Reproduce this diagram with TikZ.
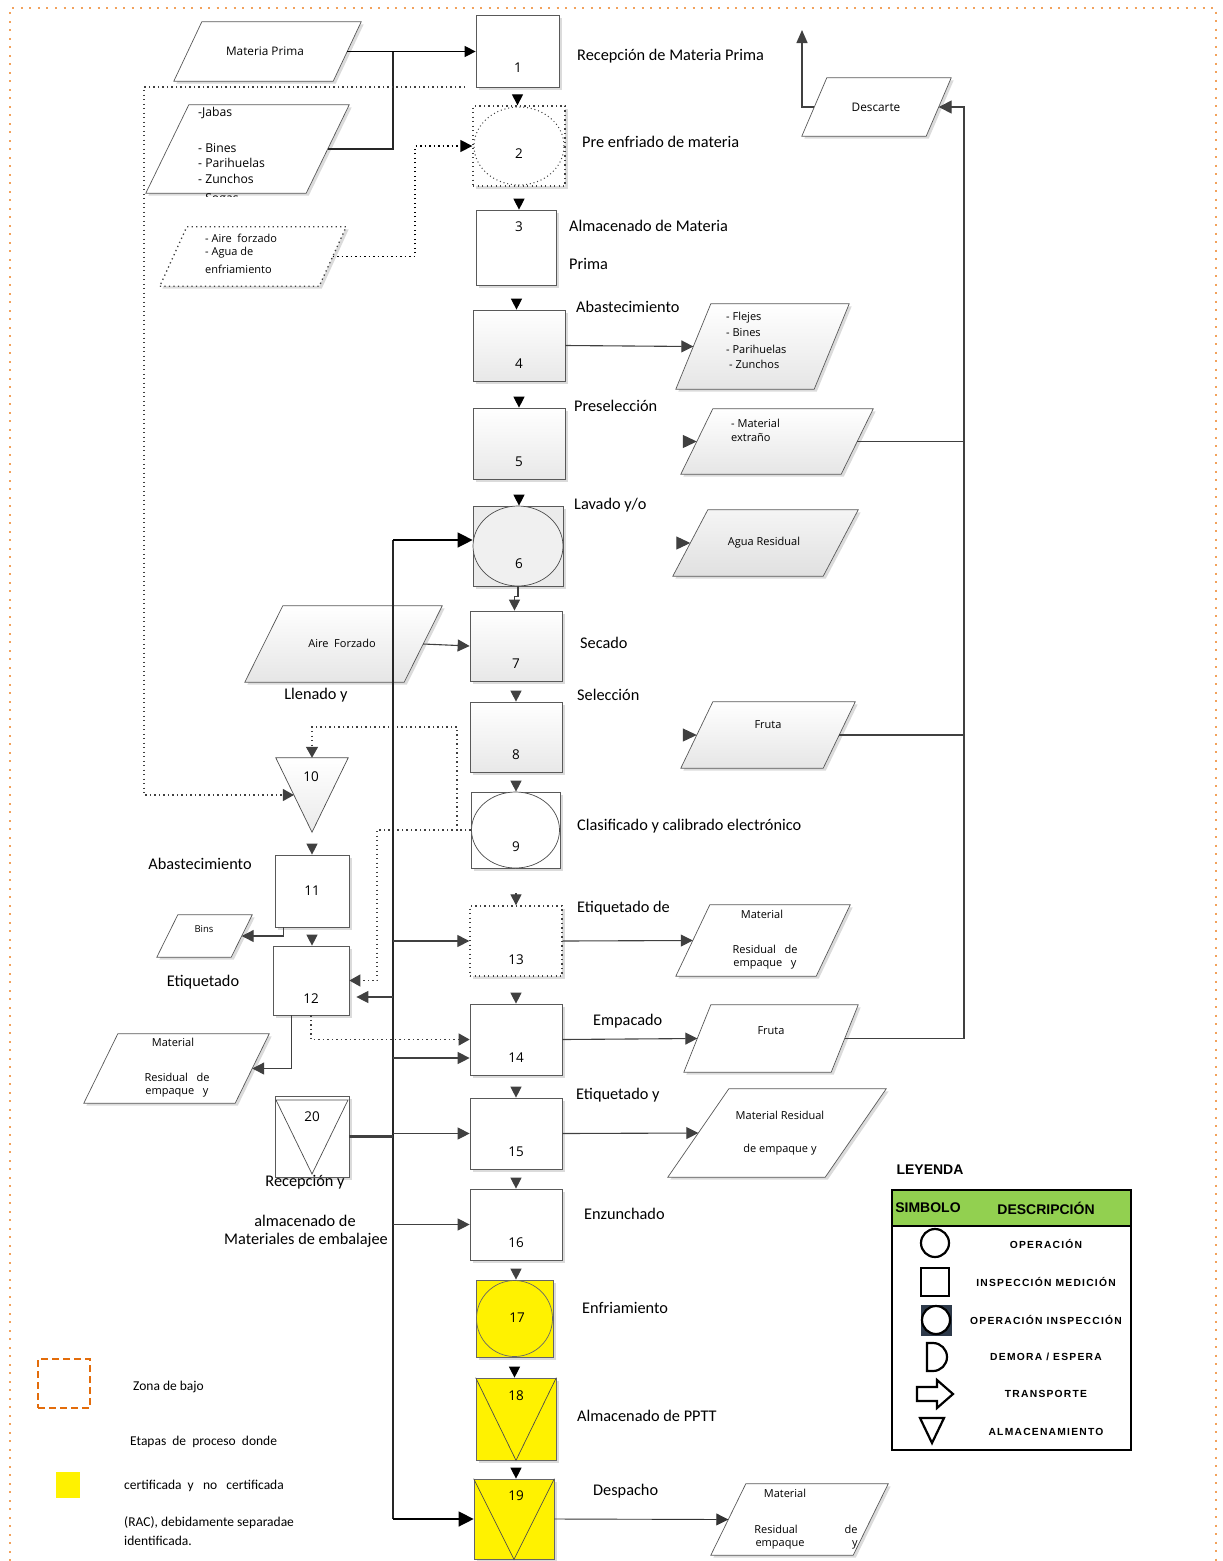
\documentclass[tikz,border=0pt]{standalone}
\usepackage{fontspec}
\setmainfont{Carlito}
\newfontfamily\osans{Open Sans}
\newfontfamily\arb{Liberation Sans}
\newfontfamily\arbs{Liberation Sans}[LetterSpace=12]
\usetikzlibrary{shapes.geometric,arrows.meta,shadows,calc}
\definecolor{lgreen}{HTML}{92D050}
\definecolor{obord}{HTML}{F2A25C}
\definecolor{odash}{HTML}{E36C0A}
\definecolor{dark}{HTML}{404040}
\definecolor{symc}{HTML}{2E3A4A}
\newcommand\lf{\fontsize{16.3}{19}\selectfont}
\newcommand\pf{\osans\fontsize{11.8}{14}\selectfont}
\newcommand\pfs{\osans\fontsize{11}{13}\selectfont}
\newcommand\nf{\osans\fontsize{13.5}{16}\selectfont}
% name, cx, cy, width, height, shift, style
\newcommand\mypara[7]{%
  \node[rectangle,minimum width=#4pt,minimum height=#5pt,inner sep=0pt] (#1) at (#2,#3) {};
  \path[pshape,#7] (#1.south west) -- ($(#1.south east)+(-#6,0)$) -- (#1.north east) -- ($(#1.north west)+(#6,0)$) -- cycle;
  \coordinate (#1l) at ($(#1.west)+(#6/2,0)$);
  \coordinate (#1r) at ($(#1.east)+(-#6/2,0)$);}
\tikzset{
 shd/.style={drop shadow={shadow xshift=2.5pt,shadow yshift=-2.5pt,fill=black!14,opacity=1}},
 pbox/.style={rectangle,draw=black!65,line width=0.7pt,fill=white,inner sep=0pt,shd},
 gbox/.style={pbox,top color=white,bottom color=black!9},
 ybox/.style={pbox,fill=yellow,draw=black!60},
 pshape/.style={draw=black!65,line width=0.7pt,fill=white,shd},
 gpara/.style={top color=white,bottom color=black!10},
 lbl/.style={font=\lf,inner sep=0pt,anchor=west},
 clbl/.style={font=\lf,inner sep=0pt},
 ptx/.style={font=\pf,inner sep=0pt},
 ptxw/.style={font=\pfs,inner sep=0pt,anchor=west},
 num/.style={font=\nf,inner sep=0pt},
 arr/.style={draw=dark,line width=1.1pt,-{Triangle[length=12pt,width=12pt]}},
 carr/.style={draw=dark,line width=1.1pt,-{Triangle[length=11pt,width=11pt]}},
 arrk/.style={draw=black,line width=1.1pt,-{Triangle[length=11pt,width=11pt]}},
 arrb/.style={draw=black,line width=1.3pt,-{Triangle[length=15pt,width=15pt]}},
 lk/.style={draw=black!85,line width=1.1pt},
 dotl/.style={draw=dark,line width=1.3pt,dash pattern=on 1.3pt off 3.2pt},
 darr/.style={dotl,-{Triangle[length=11pt,width=12pt]}},
 legt/.style={font=\arbs\bfseries\fontsize{10.3}{12}\selectfont,inner sep=0pt},
 legh/.style={font=\arb\bfseries\fontsize{14}{16}\selectfont,inner sep=0pt},
 symw/.style={draw=black,line width=2.2pt},
 blt/.style={font=\fontsize{13.5}{16}\selectfont,inner sep=0pt,anchor=west}
}
\begin{document}
\begin{tikzpicture}[x=1pt,y=-1pt]
\useasboundingbox (0,0) rectangle (1223,1561);
% page border
\draw[obord,line width=2pt,dash pattern=on 2pt off 6.5pt] (10,1561) -- (10,8) -- (1216,8) -- (1216,1561);

% ===== main column =====
\node[pbox,minimum width=83pt,minimum height=72pt] (n1) at (517.5,51) {};
\node[rectangle,draw=dark,dotl,fill=white,minimum width=92pt,minimum height=80pt,inner sep=0pt,shd] (n2) at (519,146) {};
\node[ellipse,draw=dark,line width=1pt,dash pattern=on 1pt off 2.8pt,minimum width=90pt,minimum height=78pt,inner sep=0pt] (e2) at (n2) {};
\node[pbox,minimum width=80pt,minimum height=75pt] (n3) at (516.5,247.5) {};
\node[gbox,minimum width=92pt,minimum height=71pt] (n4) at (519,345.5) {};
\node[gbox,minimum width=92pt,minimum height=71pt] (n5) at (519,443.5) {};
\node[pbox,fill=black!8,minimum width=90pt,minimum height=80pt] (n6) at (518,546) {};
\node[ellipse,draw=black!70,line width=0.7pt,fill=black!6,minimum width=90pt,minimum height=80pt,inner sep=0pt] (e6) at (n6) {};
\node[gbox,minimum width=92pt,minimum height=70pt] (n7) at (516,646) {};
\node[gbox,minimum width=92pt,minimum height=70pt] (n8) at (516,737) {};
\node[pbox,minimum width=89pt,minimum height=76pt] (n9) at (515.5,830) {};
\node[ellipse,draw=black!70,line width=0.7pt,fill=white,minimum width=88pt,minimum height=76pt,inner sep=0pt] (e9) at (n9) {};
\node[rectangle,draw=dark,dotl,fill=white,minimum width=92pt,minimum height=70pt,inner sep=0pt,shd] (n13) at (516,941) {};
\node[pbox,minimum width=92pt,minimum height=71pt] (n14) at (516,1039.5) {};
\node[pbox,minimum width=92pt,minimum height=71pt] (n15) at (516,1133.5) {};
\node[pbox,minimum width=92pt,minimum height=71pt] (n16) at (516,1224.5) {};
\node[ybox,minimum width=77pt,minimum height=77pt] (n17) at (514.5,1318.5) {};
\node[circle,draw=black!60,line width=0.7pt,fill=yellow,minimum size=76pt,inner sep=0pt] (e17) at (n17) {};
\node[ybox,minimum width=80pt,minimum height=82pt] (n18) at (516,1419) {};
\draw[black!70,line width=0.7pt] (n18.north west) -- (n18.south) -- (n18.north east);
\node[ybox,minimum width=80pt,minimum height=80pt] (n19) at (514,1519) {};
\draw[black!70,line width=0.7pt] (n19.north west) -- (n19.south) -- (n19.north east);

% ===== left column =====
\node[rectangle,minimum width=72pt,minimum height=74pt,inner sep=0pt] (n10) at (312,795) {};
\draw[black!70,line width=0.7pt,top color=white,bottom color=black!8] (n10.north west) -- (n10.north east) -- (n10.south) -- cycle;
\node[pbox,minimum width=74pt,minimum height=72pt] (n11) at (312,891) {};
\node[pbox,minimum width=76pt,minimum height=69pt] (n12) at (311,980.5) {};
\node[pbox,minimum width=74pt,minimum height=81pt] (n20) at (312,1136.5) {};
\draw[black!70,line width=0.7pt] (276,1100) -- (348,1100) -- (312,1174) -- cycle;

% numbers
\node[num] (t1) at (518,68) {1};
\node[num] (t2) at (519,154) {2};
\node[num] (t3) at (519,227) {3};
\node[num] (t4) at (519,364) {4};
\node[num] (t5) at (519,462) {5};
\node[num] (t6) at (519,564) {6};
\node[num] (t7) at (516,664) {7};
\node[num] (t8) at (516,755) {8};
\node[num] (t9) at (516,847) {9};
\node[num] (t13) at (516,960) {13};
\node[num] (t14) at (516,1058) {14};
\node[num] (t15) at (516,1152) {15};
\node[num] (t16) at (516,1243) {16};
\node[num] (t17) at (517,1318) {17};
\node[num] (t18) at (516,1396) {18};
\node[num] (t19) at (516,1496) {19};
\node[num] (t10) at (311,777) {10};
\node[num] (t11) at (312,891) {11};
\node[num] (t12) at (311,999) {12};
\node[num] (t20) at (312,1117) {20};

% ===== parallelograms =====
\mypara{mp}{267.5}{51.5}{187}{59}{28}{}
\mypara{jab}{247.5}{149}{203}{88}{43}{}
\mypara{airf}{253}{256.5}{186}{59}{27}{dotl,draw=dark}
\mypara{desc}{876.5}{107}{149}{58}{25}{}
\mypara{flej}{762.5}{346.5}{173}{85}{35}{gpara}
\mypara{mext}{777}{441.5}{192}{65}{32}{gpara}
\mypara{agua}{765.5}{543}{185}{66}{35}{top color=black!4,bottom color=black!12}
\mypara{af}{343.5}{644}{197}{76}{38}{gpara}
\mypara{fr1}{768}{735}{174}{66}{32}{gpara}
\mypara{bins}{204.5}{936}{95}{42}{21}{}
\mypara{mrt}{763}{940.5}{174}{71}{34}{}
\mypara{mrL}{176.5}{1068.5}{185}{69}{34}{}
\mypara{frb}{771}{1038.5}{174}{67}{27}{}
\mypara{mrf}{777}{1133}{218}{88}{61}{}
\mypara{mrn}{799.5}{1519.5}{177}{71}{35}{}

% parallelogram texts
\node[ptx] (x1) at (265,51) {Materia Prima};
\node[ptxw,font=\osans\fontsize{12.2}{14}\selectfont] (x2) at (198,113) {-Jabas};
\node[ptxw,font=\osans\fontsize{12.2}{14}\selectfont] (x3) at (198,148) {- Bines};
\node[ptxw,font=\osans\fontsize{12.2}{14}\selectfont] (x4) at (198,163) {- Parihuelas};
\node[ptxw,font=\osans\fontsize{12.2}{14}\selectfont] (x5) at (198,179) {- Zunchos};
\begin{scope}
\clip (150,100) rectangle (360,196.5);
\node[ptxw,font=\osans\fontsize{12.2}{14}\selectfont] (x6) at (198,200) {- Sogas};
\end{scope}
\node[ptxw] (x7) at (205,238) {- Aire\ \ forzado};
\node[ptxw] (x8) at (205,253) {- Agua de};
\node[ptxw] (x9) at (205,269) {enfriamiento};
\node[ptx] (x10) at (876,107) {Descarte};
\node[ptxw] (x11) at (726,318) {- Flejes};
\node[ptxw] (x12) at (726,333) {- Bines};
\node[ptxw] (x13) at (726,349) {- Parihuelas};
\node[ptxw] (x14) at (729,364) {- Zunchos};
\node[ptxw] (x15) at (731,423) {- Material};
\node[ptxw] (x16) at (731,438) {extraño};
\node[ptx,font=\pfs] (x17) at (764,543) {Agua Residual};
\node[ptx,font=\pfs] (x18) at (342,643) {Aire\ \ Forzado};
\node[ptx,font=\pfs] (x19) at (768,725) {Fruta};
\node[ptx,font=\osans\fontsize{9.5}{11}\selectfont] (x20) at (204,929) {Bins};
\node[ptx,font=\pfs] (x21) at (762,914) {Material};
\node[ptx,font=\pfs] (x22) at (765,949) {Residual\ \ \ de};
\node[ptx,font=\pfs] (x23) at (765,965) {empaque\ \ \ y};
\node[ptx,font=\pfs] (x24) at (173,1042) {Material};
\node[ptx,font=\pfs] (x25) at (177,1077) {Residual\ \ \ de};
\node[ptx,font=\pfs] (x26) at (177,1093) {empaque\ \ \ y};
\node[ptx,font=\pfs] (x27) at (771,1031) {Fruta};
\node[ptx,font=\pfs] (x28) at (780,1115) {Material Residual};
\node[ptx,font=\pfs] (x29) at (780,1150) {de empaque y};
\node[ptx,font=\pfs] (x30) at (785,1493) {Material};
\node[ptx,font=\pfs] (x31) at (776,1529) {Residual};
\node[ptx,font=\pfs] (x32) at (851,1529) {de};
\node[ptx,font=\pfs] (x33) at (780,1545) {empaque};
\node[ptx,font=\pfs] (x34) at (855,1545) {y};

% ===== step labels =====
\node[lbl] (l1) at (577,56) {Recepción de Materia Prima};
\node[lbl] (l2) at (582,142) {Pre enfriado de materia};
\node[lbl] (l3) at (569,226) {Almacenado de Materia};
\node[lbl] (l3b) at (569,264) {Prima};
\node[lbl] (l4) at (576,307) {Abastecimiento};
\node[lbl] (l5) at (574,406) {Preselección};
\node[lbl] (l6) at (574,505) {Lavado y/o};
\node[lbl] (l7) at (580,643) {Secado};
\node[lbl] (l8) at (577,695) {Selección};
\node[lbl] (l9) at (577,826) {Clasificado y calibrado electrónico};
\node[lbl] (l13) at (577,908) {Etiquetado de};
\node[lbl] (l14) at (593,1021) {Empacado};
\node[lbl] (l15) at (576,1095) {Etiquetado y};
\node[lbl] (l16) at (584,1214) {Enzunchado};
\node[lbl] (l17) at (582,1308) {Enfriamiento};
\node[lbl] (l18) at (577,1416) {Almacenado de PPTT};
\node[lbl] (l19) at (593,1491) {Despacho};
\node[clbl] (l10) at (316,695) {Llenado y};
\node[clbl] (l11) at (200,864) {Abastecimiento};
\node[clbl] (l12) at (203,982) {Etiquetado};
\node[clbl] (l20) at (305,1182) {Recepción y};
\node[clbl] (l20b) at (305,1221) {almacenado de};
\node[clbl] (l20c) at (306,1240) {Materiales de embalajee};

% ===== connectors: main chain (only the heads show) =====
\foreach \a/\b/\s/\c in {n1/n2/8/black,n2/n3/13/black,n3/n4/14/black,n4/n5/16/black,n5/n6/16/black,n7/n8/10/dark,n8/n9/9/dark,n13/n14/17/dark,n14/n15/12/dark,n15/n16/9/dark,n16/n17/9/dark,n17/n18/10/black,n18/n19/8/black,n10/n11/12/dark,n11/n12/8/dark}
  \draw[carr,draw=\c,shorten <=\s pt] (\a.south) -- (\a.south |- \b.north);
\draw[carr] (n6.south) -- ++(0,10) -| ([xshift=-1.5pt]n7.north);
\coordinate (c9) at ($(n13.north)+(0,-12)$);
\draw[carr] (c9) -- (n13.north);

% inputs on the left
\draw[arrk] (mpr) -- (mpr -| n1.west);
\coordinate (j1) at (393,51.5);
\draw[lk] (jabr) -| (j1);
\coordinate (a1) at (415,146);
\draw[darr,-{Triangle[length=12pt,width=12pt]},draw=black] (airfr) -| (a1) -- (n2.west);
\coordinate (d0) at (465,87);
\coordinate (d1) at (144,87);
\coordinate (d10) at ($(n10.north west)!0.5!(n10.south)$);
\draw[darr] (d0) -- (d1) |- (d10);
\draw[arr] (afr) -- (n7.west);

% dotted from 9
\coordinate (d9) at (457,830);
\coordinate (d9u) at (457,727);
\coordinate (d9l) at (377,830);
\draw[dotl] (n9.west) -- (d9);
\draw[darr] (d9) -- (d9u) -| (n10.north);
\draw[darr] (d9) -- (d9l) |- (n12.east);
\draw[darr] (n12.south) |- (n14.west);

% 11 -> Bins, 12 -> material
\coordinate (b0) at ($(n11.south west)!0.12!(n11.south east)$);
\draw[arr] (b0) |- (binsr);
\coordinate (b1) at ($(n12.south west)!0.24!(n12.south east)$);
\draw[arr] (b1) |- (mrLr);

% vertical trunk
\coordinate (tt) at (393,540);
\coordinate (tb) at (393,1519);
\draw[lk] (tt) -- (tb);
\draw[arrb] (tt) -- (tt -| n6.west);
\draw[arrb] (tb) -- (n19.west);
\draw[arr] (tt |- n13.west) -- (n13.west);
\coordinate (c14) at (393,1058);
\draw[arr] (c14) -- (c14 -| n14.west);
\draw[arr] (tt |- n15.west) -- (n15.west);
\draw[arr] (tt |- n16.west) -- (n16.west);
\coordinate (c12) at (393,997);
\draw[arr,shorten >=7pt] (c12) -- (c12 -| n12.east);
\draw[lk,line width=2.2pt,draw=dark] (n20.east) -- (n20.east -| tt);

% outputs on the right
\draw[arr] (n4.east) -- (flejl);
\draw[arr,-{Triangle[length=14pt,width=13pt]}] ($(mextl)+(-13,0)$) -- (mextl);
\draw[arr,-{Triangle[length=14pt,width=13pt]}] ($(agual)+(-13,0)$) -- (agual);
\draw[arr,-{Triangle[length=14pt,width=13pt]}] ($(fr1l)+(-13,0)$) -- (fr1l);
\draw[arr] (n13.east) -- (mrtl);
\draw[arr] (n14.east) -- (frbl);
\draw[arr] (n15.east) -- (mrfl);
\draw[arr,draw=black!80,line width=0.9pt] (n19.east) -- (mrnl);

% right trunk to Descarte
\coordinate (r0) at (964,107);
\draw[lk,draw=dark,line width=1.4pt] (mextr) -- (mextr -| r0);
\draw[lk,draw=dark,line width=1.4pt] (fr1r) -- (fr1r -| r0);
\draw[arr,line width=1.4pt,-{Triangle[length=13pt,width=13pt]}] (frbr) -| (r0) -- (descr);
\coordinate (dup) at (802,30);
\draw[arr,line width=1.4pt,-{Triangle[length=13pt,width=11pt]}] (descl) -| (dup);

% ===== legend =====
\node[legh] (lg0) at (930,1170) {LEYENDA};
\fill[lgreen] (892,1190) rectangle (1131,1226);
\draw[line width=1.5pt] (892,1226) -- (1131,1226);
\node[rectangle,draw=black,line width=1.5pt,minimum width=239pt,minimum height=260pt,inner sep=0pt] (leg) at (1011.5,1320) {};
\node[legh] (lg1) at (928,1208) {SIMBOLO};
\node[legh] (lg2) at (1046,1208) {DESCRIPCIÓN};
\node[circle,symw,minimum size=28pt,inner sep=0pt] (s1) at (935,1243) {};
\node[rectangle,symw,minimum size=28pt,inner sep=0pt] (s2) at (935,1282) {};
\node[rectangle,fill=symc,minimum width=31pt,minimum height=31pt,inner sep=0pt] (s3) at (936,1320) {};
\node[circle,symw,fill=white,minimum size=28pt,inner sep=0pt] (s3c) at (936,1320) {};
\draw[symw] (927,1343) -- (933,1343) arc[start angle=-90,end angle=90,radius=14] -- (927,1371) -- cycle;
\draw[symw,line join=miter] (917,1387) -- (937,1387) -- (937,1380) -- (953,1394) -- (937,1408) -- (937,1401) -- (917,1401) -- cycle;
\draw[symw] (920,1418) -- (944,1418) -- (932,1443) -- cycle;
\node[legt] (lt1) at (1046,1244) {OPERACIÓN};
\node[legt] (lt2) at (1046,1282) {INSPECCIÓN MEDICIÓN};
\node[legt] (lt3) at (1046,1320) {OPERACIÓN INSPECCIÓN};
\node[legt] (lt4) at (1046,1357) {DEMORA / ESPERA};
\node[legt] (lt5) at (1046,1394) {TRANSPORTE};
\node[legt] (lt6) at (1046,1432) {ALMACENAMIENTO};

% ===== bottom-left key =====
\node[rectangle,draw=odash,line width=2.4pt,dash pattern=on 7pt off 4pt,minimum width=52pt,minimum height=49pt,inner sep=0pt] (k1) at (64,1383.5) {};
\node[rectangle,fill=yellow,minimum width=24pt,minimum height=26pt,inner sep=0pt] (k2) at (68,1485) {};
\node[blt] (k3) at (133,1387) {Zona de bajo};
\node[blt] (k4) at (130,1442) {Etapas\ \ de\ \ proceso\ \ donde};
\node[blt] (k5) at (124,1486) {certificada\ \ y\ \ \ no\ \ \ certificada};
\node[blt] (k6) at (124,1523) {(RAC), debidamente separadae};
\node[blt] (k7) at (124,1541) {identificada.};
\end{tikzpicture}
\end{document}
